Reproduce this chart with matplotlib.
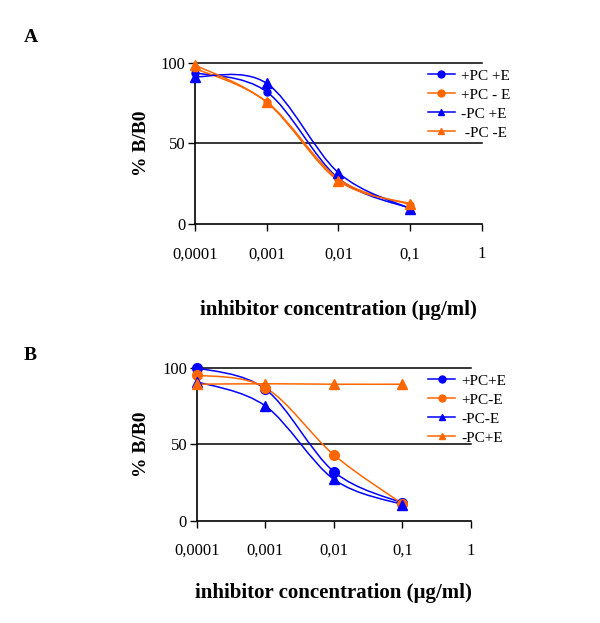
import numpy as np
import matplotlib
matplotlib.use("Agg")
import matplotlib.pyplot as plt
from matplotlib.path import Path
from matplotlib.patches import PathPatch
from matplotlib.lines import Line2D

plt.rcParams['font.family'] = ['Liberation Serif', 'DejaVu Serif']

# category axis (Excel-style line chart)
conc_labels = ["0,0001", "0,001", "0,01", "0,1", "1"]

# panel A
a_names = ["+PC +E", "+PC - E", "-PC +E", " -PC -E"]
a_pcpe = [93.8, 82.0, 28.3, 9.7]
a_pcme = [96.5, 75.8, 28.0, 12.0]
a_mcpe = [91.3, 87.2, 31.8, 9.5]
a_mcme = [98.6, 75.5, 26.8, 12.6]

# panel B
b_names = ["+PC+E", "+PC-E", "-PC-E", "-PC+E"]
b_pcpe = [100.0, 86.0, 32.0, 11.5]
b_pcme = [95.2, 87.0, 43.0, 11.0]
b_mcme = [90.9, 75.0, 27.0, 10.5]
b_mcpe = [89.2, 89.5, 89.2, 89.2]

BLUE = '#0000ff'
ORANGE = '#ff6600'


def smooth_path(xs, ys):
    # Excel-like smoothed line as cubic bezier segments
    pts = np.column_stack([xs, ys]).astype(float)
    n = len(pts)
    verts = [pts[0]]
    codes = [Path.MOVETO]
    for i in range(n - 1):
        p0 = pts[i - 1] if i > 0 else pts[i]
        p1 = pts[i]
        p2 = pts[i + 1]
        p3 = pts[i + 2] if i + 2 < n else pts[i + 1]
        c1 = p1 + (p2 - p0) / 6.0
        c2 = p2 - (p3 - p1) / 6.0
        verts += [c1, c2, p2]
        codes += [Path.CURVE4] * 3
    return Path(verts, codes)


def draw_panel(ax, series, names, styles, xlab_y, ylab_x, leg_x):
    x = np.arange(len(series[0]))
    for ys, (col, mk, ms) in zip(series, styles):
        ax.add_patch(PathPatch(smooth_path(x, ys), facecolor='none',
                               edgecolor=col, lw=1.1, zorder=3))
        ax.plot(x, ys, linestyle='none', marker=mk, color=col, ms=ms,
                clip_on=False, zorder=4)
    ax.set_xlim(0, 4)
    ax.set_ylim(0, 100)
    ax.set_xticks(range(5))
    ax.set_xticklabels(conc_labels, fontsize=12)
    ax.set_yticks([0, 50, 100])
    ax.set_yticklabels(['0', '50', '100'], fontsize=12)
    ax.tick_params(axis='x', direction='out', length=5, width=1, pad=11)
    ax.tick_params(axis='y', direction='out', length=5, width=1, pad=2)
    for s in ['top', 'right']:
        ax.spines[s].set_visible(False)
    for s in ['left', 'bottom']:
        ax.spines[s].set_linewidth(1.2)
    for yv in [50, 100]:
        ax.axhline(yv, color='black', lw=1.1, zorder=1, clip_on=False)
    ax.set_ylabel('% B/B0', fontsize=14, fontweight='bold', va='center')
    ax.yaxis.set_label_coords(ylab_x, 0.5)
    ax.set_xlabel('inhibitor concentration (\u00b5g/ml)', fontsize=15,
                  fontweight='bold', va='center')
    ax.xaxis.set_label_coords(0.5, xlab_y)
    handles = [Line2D([0], [0], color=c, marker=m, ms=5, lw=1.1)
               for c, m, _ in styles]
    ax.legend(handles, names, loc='upper left', bbox_to_anchor=(leg_x, 1.0),
              frameon=False, fontsize=11, handlelength=1.8, labelspacing=0.35,
              borderaxespad=0, handletextpad=0.4)


fig = plt.figure(figsize=(6, 6.23), dpi=100)

axA = fig.add_axes([0.325, 0.6404, 0.478, 0.2589])
draw_panel(axA, [a_pcpe, a_pcme, a_mcpe, a_mcme], a_names,
           [(BLUE, 'o', 5), (ORANGE, 'o', 5), (BLUE, '^', 7), (ORANGE, '^', 7)],
           -0.533, -0.185, 0.79)

axB = fig.add_axes([0.328, 0.1642, 0.457, 0.2456])
draw_panel(axB, [b_pcpe, b_pcme, b_mcme, b_mcpe], b_names,
           [(BLUE, 'o', 7), (ORANGE, 'o', 7), (BLUE, '^', 7), (ORANGE, '^', 7)],
           -0.4725, -0.2, 0.82)

fig.text(0.04, 0.933, 'A', fontsize=14, fontweight='bold')
fig.text(0.04, 0.422, 'B', fontsize=14, fontweight='bold')

fig.savefig('out.png', dpi=100)
